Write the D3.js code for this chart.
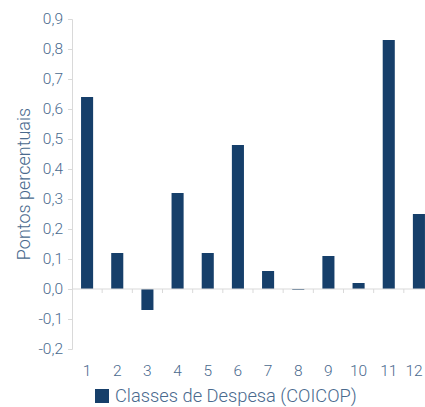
<!DOCTYPE html>
<html><head><meta charset="utf-8">
<script src="https://cdn.jsdelivr.net/npm/d3@7"></script>
<style>body{margin:0;background:#fff;overflow:hidden}svg{display:block;font-family:Roboto,sans-serif;font-weight:300}</style>
</head><body><svg id="c" width="425" height="407"></svg>
<script>
const categories = ["1","2","3","4","5","6","7","8","9","10","11","12"];
const values = [0.64,0.12,-0.07,0.32,0.12,0.48,0.06,-0.003,0.11,0.02,0.83,0.25];
const yTicks = [-0.2,-0.1,0,0.1,0.2,0.3,0.4,0.5,0.6,0.7,0.8,0.9];
const seriesName = "Classes de Despesa (COICOP)";
const yTitle = "Pontos percentuais";

const svg = d3.select("#c");
const textColor = "#4a6a8e", barColor = "#163f6a", axisColor = "#d9d9d9";
const y = d3.scaleLinear().domain([-0.2,0.9]).range([349,19]);
const x = d3.scaleBand().domain(categories).range([72,434]).paddingInner(0.6).paddingOuter(0.3);
const fmt = d => d3.format(".1f")(d).replace(".",",").replace("−","-");

// y axis
const ya = svg.append("g").attr("transform","translate(72,0)")
  .call(d3.axisLeft(y).tickValues(yTicks).tickFormat(fmt).tickSize(4).tickPadding(5));
ya.select(".domain").attr("stroke",axisColor);
ya.selectAll(".tick line").attr("stroke",axisColor);
ya.selectAll(".tick text").attr("fill",textColor).style("font-size","15.5px").style("font-family","Roboto").style("font-weight","300");

// bars
svg.append("g").selectAll("rect").data(values).join("rect")
  .attr("x",(d,i)=>x(categories[i]))
  .attr("width",x.bandwidth())
  .attr("y",d=>y(Math.max(0,d)))
  .attr("height",d=>Math.max(0.8,Math.abs(y(d)-y(0))))
  .attr("fill",barColor);

// x axis at zero
const step = x.step();
const xa = svg.append("g").attr("transform",`translate(0,${y(0)})`);
xa.append("line").attr("x1",72).attr("x2",434).attr("stroke",axisColor);
xa.selectAll("line.t").data(categories).join("line").attr("class","t")
  .attr("x1",(d)=>x(d)+x.bandwidth()/2+step/2).attr("x2",(d)=>x(d)+x.bandwidth()/2+step/2)
  .attr("y1",0).attr("y2",4).attr("stroke",axisColor);
svg.append("g").selectAll("text").data(categories).join("text")
  .attr("x",d=>Math.min(x(d)+x.bandwidth()/2, 414))
  .attr("y",376)
  .attr("text-anchor","middle").attr("fill",textColor).style("font-size","15.5px").text(d=>d);

// y title
svg.append("text").attr("transform","translate(30,184) rotate(-90)")
  .attr("text-anchor","middle").attr("fill",textColor).style("font-size","18px").text(yTitle);

// legend
svg.append("rect").attr("x",95).attr("y",389).attr("width",14).attr("height",14).attr("fill",barColor);
svg.append("text").attr("x",115).attr("y",402).attr("fill",textColor).style("font-size","18.3px").text(seriesName);
</script></body></html>
